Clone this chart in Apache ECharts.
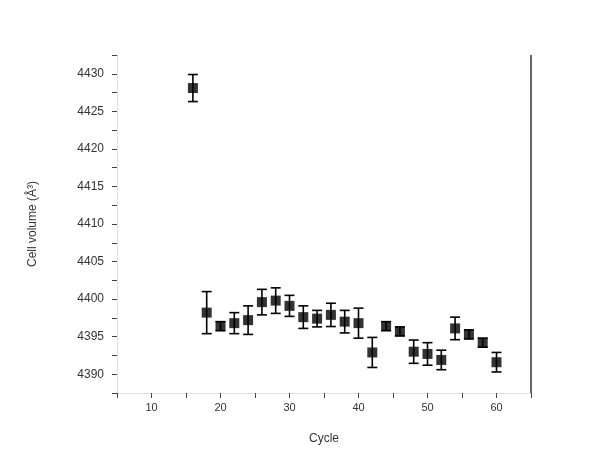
<!DOCTYPE html>
<html><head><meta charset="utf-8">
<script src="https://cdn.jsdelivr.net/npm/echarts@6/dist/echarts.min.js"></script>
<style>html,body{margin:0;padding:0;background:#fff}#c{width:608px;height:468px}</style>
</head><body><div id="c"></div>
<script>
const cycles = [16,18,20,22,24,26,28,30,32,34,36,38,40,42,44,46,48,50,52,54,56,58,60];
const volumes = [4428.1,4398.2,4396.4,4396.8,4397.2,4399.6,4399.8,4399.1,4397.6,4397.4,4397.9,4397.0,4396.8,4392.9,4396.4,4395.7,4393.0,4392.7,4391.9,4396.1,4395.3,4394.2,4391.6];
const errors = [1.8,2.8,0.6,1.4,1.9,1.7,1.7,1.4,1.5,1.1,1.55,1.5,2.0,2.0,0.6,0.6,1.55,1.5,1.3,1.5,0.6,0.6,1.3];

const chart = echarts.init(document.getElementById('c'), null, {renderer:'canvas'});
const errData = cycles.map((c,i)=>[c, volumes[i]-errors[i], volumes[i]+errors[i]]);
const ptData = cycles.map((c,i)=>[c, volumes[i]]);
chart.setOption({
  backgroundColor:'#fff',
  animation:false,
  grid:{left:117, right:77, top:55, bottom:75, show:false},
  xAxis:{
    type:'value', min:5, max:65, interval:5,
    name:'Cycle', nameLocation:'middle', nameGap:40,
    nameTextStyle:{fontSize:12, color:'#333', fontFamily:'Liberation Sans'},
    axisLine:{show:true, onZero:false, lineStyle:{color:'#e6dce6', width:1}},
    axisTick:{show:true, length:5, lineStyle:{color:'#444'}},
    axisLabel:{fontSize:11, color:'#333', fontFamily:'Liberation Sans', margin:9,
      formatter:v=> (v%10===0 ? String(v) : '')},
    splitLine:{show:false}
  },
  yAxis:{
    type:'value', min:4387.5, max:4432.5, interval:2.5,
    name:'Cell volume (Å³)', nameLocation:'middle', nameGap:78, nameRotate:90,
    nameTextStyle:{fontSize:12, color:'#333', fontFamily:'Liberation Sans'},
    axisLine:{show:true, lineStyle:{color:'#e6dce6', width:1}},
    axisTick:{show:true, length:5, lineStyle:{color:'#444'}},
    axisLabel:{fontSize:12, color:'#333', fontFamily:'Liberation Sans', margin:13,
      formatter:v=> (Math.abs(v%5)<1e-6 ? String(v) : '')},
    splitLine:{show:false}
  },
  series:[
    {
      type:'custom',
      data:errData,
      renderItem:function(params, api){
        const x = api.value(0);
        const lo = api.coord([x, api.value(1)]);
        const hi = api.coord([x, api.value(2)]);
        const w = 5;
        const st = {stroke:'#000', lineWidth:1.6};
        return {type:'group', children:[
          {type:'line', shape:{x1:lo[0],y1:lo[1],x2:hi[0],y2:hi[1]}, style:st},
          {type:'line', shape:{x1:lo[0]-w,y1:lo[1],x2:lo[0]+w,y2:lo[1]}, style:st},
          {type:'line', shape:{x1:hi[0]-w,y1:hi[1],x2:hi[0]+w,y2:hi[1]}, style:st}
        ]};
      },
      z:2
    },
    {
      type:'scatter', data:ptData, symbol:'rect', symbolSize:10,
      itemStyle:{color:'#000'}, z:3
    }
  ],
  graphic:[{
    type:'line', shape:{x1:531, y1:55, x2:531, y2:393},
    style:{stroke:'#666', lineWidth:2}
  }]
});
</script></body></html>
